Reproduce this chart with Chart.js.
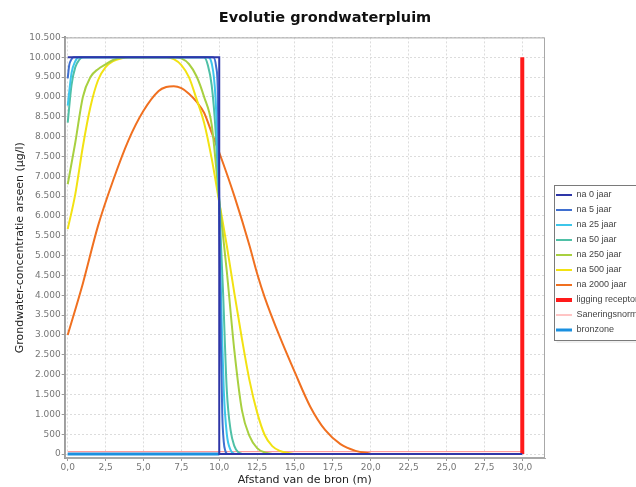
<!DOCTYPE html>
<html>
<head>
<meta charset="utf-8">
<script src="https://cdn.jsdelivr.net/npm/chart.js@4.4.1/dist/chart.umd.min.js"></script>
<style>
html, body { margin: 0; padding: 0; background: #fff; overflow: hidden; }
#wrap { width: 636px; height: 487px; }
</style>
</head>
<body>
<div id="wrap"><canvas id="grafiek" width="636" height="487"></canvas></div>
<script>
// afstand van de bron (m) en concentratie arseen (ug/l)
const na0X = [0, 10, 10, 30];
const na0Y = [10000, 10000, 0, 0];
const na5X = [0, 0.1, 0.25, 0.4, 9.6, 9.8, 9.9, 10, 10.1, 10.2, 10.3, 10.4, 10.5];
const na5Y = [9470, 9800, 9950, 10000, 10000, 9750, 9200, 6300, 3000, 1000, 300, 80, 0];
const na25X = [0, 0.25, 0.5, 0.75, 9.25, 9.5, 9.75, 10, 10.1, 10.2, 10.3, 10.5, 10.75, 11];
const na25Y = [8780, 9600, 9900, 10000, 10000, 9850, 9000, 6300, 4300, 2800, 1600, 500, 100, 0];
const na50X = [0, 0.25, 0.5, 0.75, 1, 9, 9.25, 9.5, 9.75, 10, 10.25, 10.5, 10.75, 11, 11.25, 11.5];
const na50Y = [8350, 9300, 9750, 9930, 10000, 10000, 9800, 9300, 8200, 6300, 4100, 1600, 600, 200, 50, 0];
const na250X = [0, 0.5, 1, 1.5, 2, 2.5, 3, 3.5, 4, 7, 7.5, 8, 8.5, 9, 9.5, 10, 10.5, 11, 11.5, 12, 12.5, 13, 13.5];
const na250Y = [6800, 7850, 9000, 9500, 9700, 9820, 9930, 9990, 10000, 10000, 9970, 9830, 9520, 9000, 8300, 6400, 4600, 2600, 1100, 450, 150, 40, 0];
const na500X = [0, 0.5, 1, 1.5, 2, 2.5, 3, 3.5, 4, 6.5, 7, 7.5, 8, 8.5, 9, 9.5, 10, 10.5, 11, 11.5, 12, 12.5, 13, 13.5, 14, 14.5, 15];
const na500Y = [5670, 6550, 7750, 8750, 9420, 9750, 9900, 9970, 10000, 10000, 9950, 9800, 9500, 8950, 8350, 7450, 6350, 5250, 4050, 2900, 1850, 1050, 480, 200, 80, 30, 0];
const na2000X = [0, 1, 2, 3, 4, 5, 6, 6.5, 7, 7.5, 8, 8.5, 9, 9.5, 10, 11, 12, 12.5, 13, 14, 15, 16, 17, 18, 19, 20];
const na2000Y = [3000, 4300, 5750, 6900, 7900, 8650, 9150, 9250, 9270, 9220, 9080, 8880, 8600, 8100, 7600, 6500, 5250, 4550, 3950, 2950, 2050, 1200, 600, 250, 80, 10];
const receptorX = [30, 30];
const receptorY = [0, 10000];
const normX = [0, 30];
const normY = [60, 60];
const bronX = [0, 10];
const bronY = [0, 0];

const xTicks = [0, 2.5, 5, 7.5, 10, 12.5, 15, 17.5, 20, 22.5, 25, 27.5, 30];
const yTicks = [0, 500, 1000, 1500, 2000, 2500, 3000, 3500, 4000, 4500, 5000, 5500, 6000, 6500, 7000, 7500, 8000, 8500, 9000, 9500, 10000, 10500];

function punten(xs, ys) {
  return xs.map((x, i) => ({x: x, y: ys[i]}));
}

function lijn(label, xs, ys, kleur, dikte, glad) {
  return {
    label: label,
    data: punten(xs, ys),
    borderColor: kleur,
    backgroundColor: kleur,
    borderWidth: dikte,
    pointRadius: 0,
    pointHoverRadius: 0,
    fill: false,
    cubicInterpolationMode: glad ? 'monotone' : 'default',
    tension: 0
  };
}

function duizendtal(v) {
  return String(v).replace(/\B(?=(\d{3})+(?!\d))/g, '.');
}

const kader = {
  id: 'kader',
  afterLayout(chart) {
    const lg = chart.legend;
    lg.left += 5; lg.right += 5;
    lg.top += 19; lg.bottom += 19;
  },
  afterDraw(chart) {
    const ctx = chart.ctx;
    const a = chart.chartArea;
    ctx.save();
    ctx.strokeStyle = '#a8a8a8';
    ctx.lineWidth = 1;
    ctx.strokeRect(a.left + 0.5, a.top + 0.5, a.right - a.left - 1, a.bottom - a.top - 1);
    const hb = chart.legend.legendHitBoxes;
    if (hb && hb.length) {
      const x0 = Math.round(hb[0].left) - 1.5;
      const y0 = Math.round(hb[0].top) - 5.5;
      const y1 = Math.round(hb[hb.length - 1].top + hb[hb.length - 1].height) + 5.5;
      ctx.strokeStyle = '#7a7a7a';
      ctx.strokeRect(x0, y0, 200, y1 - y0);
      ctx.strokeStyle = 'rgba(0,0,0,0.12)';
      ctx.beginPath();
      ctx.moveTo(x0 + 2, y1 + 1.5);
      ctx.lineTo(x0 + 200, y1 + 1.5);
      ctx.stroke();
    }
    ctx.restore();
  }
};

Chart.defaults.font.family = 'DejaVu Sans';
Chart.defaults.color = '#666';

new Chart(document.getElementById('grafiek'), {
  type: 'line',
  data: {
    datasets: [
      lijn('na 0 jaar', na0X, na0Y, '#2e36a8', 2, false),
      lijn('na 5 jaar', na5X, na5Y, '#3f6fd0', 2, true),
      lijn('na 25 jaar', na25X, na25Y, '#3ec6ea', 2, true),
      lijn('na 50 jaar', na50X, na50Y, '#4fc0a6', 2, true),
      lijn('na 250 jaar', na250X, na250Y, '#a8d040', 2, true),
      lijn('na 500 jaar', na500X, na500Y, '#f2e212', 2, true),
      lijn('na 2000 jaar', na2000X, na2000Y, '#f07020', 2, true),
      lijn('ligging receptor', receptorX, receptorY, '#ff1a1a', 4, false),
      lijn('Saneringsnorm', normX, normY, '#ff8a8a', 1, false),
      lijn('bronzone', bronX, bronY, '#1a90e0', 3, false)
    ]
  },
  options: {
    responsive: false,
    animation: false,
    devicePixelRatio: 1,
    layout: { padding: { left: 14, right: 0, top: 0, bottom: 0 } },
    plugins: {
      tooltip: { enabled: false },
      title: {
        display: true,
        text: 'Evolutie grondwaterpluim',
        color: '#111',
        font: { size: 14.5, weight: 'bold' },
        padding: { top: 10, bottom: 10 }
      },
      legend: {
        position: 'right',
        maxWidth: 91,
        labels: {
          usePointStyle: true,
          pointStyle: 'line',
          pointStyleWidth: 16,
          padding: 6,
          color: '#444',
          font: { size: 9, family: 'Liberation Sans' }
        }
      }
    },
    scales: {
      x: {
        type: 'linear',
        min: -0.2,
        max: 31.5,
        afterBuildTicks: (s) => { s.ticks = xTicks.map(v => ({value: v})); },
        ticks: {
          font: { size: 9 },
          color: '#777',
          padding: 1,
          maxRotation: 0,
          autoSkip: false,
          callback: (v) => Number(v).toFixed(1).replace('.', ',')
        },
        grid: { color: '#dcdcdc', tickColor: '#999', tickLength: 3, tickBorderDash: [] },
        border: { display: true, color: '#a8a8a8', dash: [2, 2] },
        title: {
          display: true,
          text: 'Afstand van de bron (m)',
          color: '#222',
          font: { size: 11 },
          padding: { top: 0, bottom: 0 }
        }
      },
      y: {
        type: 'linear',
        min: -100,
        max: 10500,
        afterBuildTicks: (s) => { s.ticks = yTicks.map(v => ({value: v})); },
        ticks: {
          font: { size: 9 },
          color: '#777',
          padding: 1,
          autoSkip: false,
          callback: (v) => duizendtal(v)
        },
        grid: { color: '#dcdcdc', tickColor: '#999', tickLength: 3, tickBorderDash: [] },
        border: { display: true, color: '#999', width: 2, dash: [2, 2] },
        title: {
          display: true,
          text: 'Grondwater-concentratie arseen (µg/l)',
          color: '#222',
          font: { size: 11 },
          padding: { top: 0, bottom: 1 }
        }
      }
    }
  },
  plugins: [kader]
});
</script>
</body>
</html>
